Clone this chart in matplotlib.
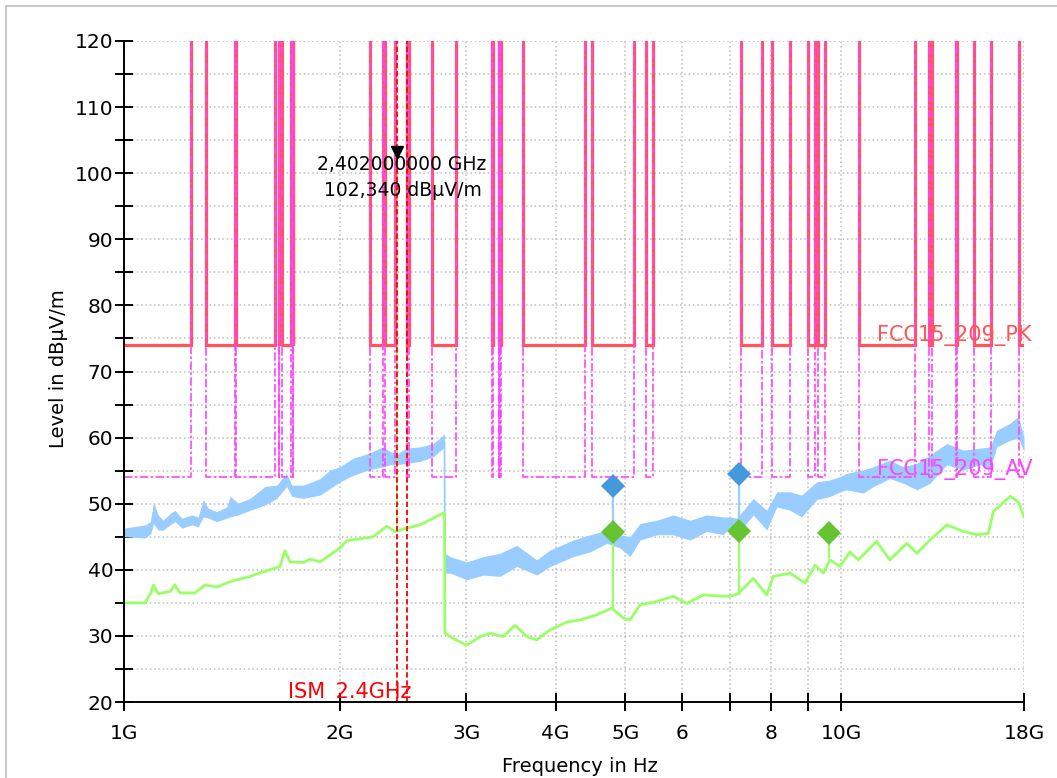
import numpy as np
import matplotlib
matplotlib.use("Agg")
import matplotlib.pyplot as plt
from matplotlib.ticker import FixedLocator, FixedFormatter, MultipleLocator, NullLocator
from matplotlib.patches import Rectangle
import matplotlib.transforms as mtransforms

# ---------------- data ----------------
# Peak trace (upper / lower envelope of the noisy trace), frequency in GHz
pk_freq = [1.000, 1.070, 1.090, 1.099, 1.116, 1.134, 1.159, 1.178, 1.204, 1.243,
           1.269, 1.290, 1.311, 1.347, 1.391, 1.406, 1.443, 1.499, 1.573, 1.633,
           1.686, 1.714, 1.779, 1.877, 1.938, 2.001, 2.088, 2.192, 2.299, 2.350,
           2.401, 2.479, 2.587, 2.700, 2.789, 2.799, 2.803, 2.850, 3.006, 3.171,
           3.345, 3.530, 3.764, 3.928, 4.233, 4.467, 4.713, 4.918, 5.079, 5.245,
           5.534, 5.837, 6.159, 6.497, 6.853, 7.002, 7.154, 7.546, 7.878, 8.136,
           8.490, 8.814, 9.251, 9.655, 9.970, 10.19, 10.74, 11.10, 11.70, 12.21,
           12.76, 13.31, 14.05, 14.82, 15.63, 16.14, 16.49, 17.22, 17.68, 18.00]
pk_hi = [46.3, 46.8, 47.3, 50.3, 48.3, 47.5, 48.5, 49.0, 47.8, 48.3,
         48.0, 50.6, 49.3, 48.8, 49.5, 51.1, 50.1, 50.8, 52.6, 52.8,
         54.6, 52.8, 52.8, 53.8, 55.1, 55.6, 56.9, 57.6, 58.6, 57.9,
         57.5, 58.4, 58.6, 59.1, 60.4, 60.4, 42.5, 42.0, 41.2, 42.0,
         42.5, 43.7, 41.5, 43.0, 44.5, 45.3, 46.0, 45.3, 45.0, 47.0,
         47.5, 48.3, 47.5, 48.3, 48.0, 48.0, 47.8, 50.8, 49.0, 51.8,
         51.8, 51.3, 53.3, 53.6, 54.1, 54.6, 55.1, 55.6, 56.6, 55.6,
         56.1, 57.4, 59.1, 58.1, 58.4, 58.6, 61.1, 62.2, 63.2, 60.1]
pk_lo = [45.0, 44.8, 45.5, 47.0, 46.0, 46.0, 46.8, 47.3, 46.3, 46.8,
         46.5, 48.0, 47.8, 47.3, 47.8, 48.0, 48.3, 49.0, 49.8, 50.8,
         52.6, 51.1, 50.8, 51.3, 52.3, 53.3, 54.3, 55.1, 55.6, 55.9,
         55.9, 56.1, 56.4, 57.1, 58.4, 58.4, 39.5, 39.5, 38.5, 39.2,
         39.0, 40.5, 39.2, 40.5, 42.0, 42.7, 44.0, 43.3, 42.0, 44.5,
         45.3, 45.3, 44.5, 45.8, 45.3, 46.5, 45.3, 48.3, 46.0, 49.5,
         49.0, 48.0, 50.6, 51.1, 51.8, 52.1, 51.6, 52.6, 53.8, 53.1,
         52.1, 53.1, 55.9, 55.1, 55.9, 55.1, 58.6, 59.6, 59.9, 57.9]

# Average trace
av_freq = [1.000, 1.070, 1.090, 1.099, 1.116, 1.159, 1.178, 1.197, 1.256, 1.297,
           1.347, 1.406, 1.499, 1.564, 1.650, 1.677, 1.704, 1.779, 1.817, 1.877,
           2.001, 2.045, 2.227, 2.325, 2.388, 2.479, 2.587, 2.700, 2.789, 2.799,
           2.803, 2.880, 3.006, 3.138, 3.240, 3.381, 3.510, 3.645, 3.764, 3.928,
           4.144, 4.325, 4.564, 4.789, 4.970, 5.079, 5.245, 5.534, 5.837, 6.094,
           6.427, 6.853, 7.002, 7.191, 7.546, 7.878, 8.047, 8.490, 8.909, 9.201,
           9.449, 9.655, 9.970, 10.29, 10.57, 11.21, 11.70, 12.35, 12.76, 13.31,
           14.05, 14.82, 15.47, 16.05, 16.31, 17.22, 17.68, 18.00]
av_val = [35.0, 35.0, 36.5, 37.7, 36.4, 36.7, 37.7, 36.5, 36.5, 37.7,
          37.4, 38.2, 39.0, 39.7, 40.5, 42.9, 41.2, 41.1, 41.6, 41.2,
          43.3, 44.4, 45.0, 46.6, 45.8, 46.3, 46.8, 47.8, 48.6, 48.6,
          30.4, 29.6, 28.6, 29.9, 30.4, 29.9, 31.6, 29.9, 29.4, 30.9,
          32.1, 32.4, 33.2, 34.2, 32.7, 32.4, 34.7, 35.2, 36.0, 34.9,
          36.2, 36.0, 36.0, 36.4, 38.7, 36.2, 39.0, 39.5, 38.0, 40.7,
          39.5, 41.5, 40.5, 42.7, 41.5, 44.3, 41.5, 44.0, 42.5, 44.5,
          46.8, 45.8, 45.3, 45.5, 48.8, 51.1, 50.3, 48.0]

# Carrier (marker M1)
carrier_freq = 2.402
carrier_pk = 102.34
carrier_av = 100.0
carrier_base_pk = 56.7
carrier_base_av = 45.9

# Final measurement points (harmonics)
final_pk_freq = [4.804, 7.206]
final_pk_val = [52.7, 54.45]
final_pk_trace = [45.0, 47.3]
final_av_freq = [4.804, 7.206, 9.608]
final_av_val = [45.7, 45.9, 45.5]
final_av_trace = [34.2, 36.4, 42.0]

# FCC 15.205 restricted bands (GHz) and limits
restricted_bands = [(1.0, 1.24), (1.3, 1.427), (1.435, 1.6265), (1.6455, 1.6465),
                    (1.66, 1.71), (1.7188, 1.7222), (2.2, 2.3), (2.31, 2.39),
                    (2.4835, 2.5), (2.69, 2.9), (3.26, 3.267), (3.332, 3.339),
                    (3.3458, 3.358), (3.6, 4.4), (4.5, 5.15), (5.35, 5.46),
                    (7.25, 7.75), (8.025, 8.5), (9.0, 9.2), (9.3, 9.5),
                    (10.6, 12.7), (13.25, 13.4), (14.47, 14.5), (15.35, 16.2),
                    (17.7, 18.0)]
limit_pk = 74.0
limit_av = 54.0
limit_off = 200.0

ism_band = (2.4, 2.4835)

x_ticks = [1, 2, 3, 4, 5, 6, 7, 8, 9, 10, 18]
x_tick_labels = ["1G", "2G", "3G", "4G", "5G", "6", "", "8", "", "10G", "18G"]

# ---------------- figure ----------------
plt.rcParams['font.family'] = ['DejaVu Sans']
W, H = 1057, 778
fig = plt.figure(figsize=(W / 100, H / 100), dpi=100)
fig.patch.set_facecolor('white')
ax = fig.add_axes([124 / W, 1 - 702 / H, 900 / W, 661 / H])
ax.set_xscale('log')
ax.set_xlim(1, 18)
ax.set_ylim(20, 120)

# grid
ax.set_axisbelow(True)
grid_kw = dict(color='#bdbdbd', linewidth=1.1, linestyle=(0, (1.0, 1.8)))
ax.grid(True, axis='x', which='major', **grid_kw)
ax.grid(True, axis='y', which='both', **grid_kw)

# traces
pk_mid = [(a + b) / 2 for a, b in zip(pk_hi, pk_lo)]
ax.fill_between(pk_freq, pk_lo, pk_hi, color='#99ccff', linewidth=0, zorder=2)
ax.plot(pk_freq, pk_mid, color='#99ccff', lw=1.3, zorder=2)
ax.plot(av_freq, av_val, color='#99ff66', lw=2.0, zorder=3)
ax.vlines(carrier_freq, carrier_base_pk, carrier_pk, color='#99ccff', lw=1.2, zorder=2)
ax.vlines(carrier_freq, carrier_base_av, carrier_av, color='#99ff66', lw=1.2, zorder=3)

# limit lines
def limit_path(level):
    xs, ys = [], []
    for a, b in restricted_bands:
        if a > 1.0:
            xs.append(a); ys.append(limit_off)
        xs += [a, b]; ys += [level, level]
        if b < 18.0:
            xs.append(b); ys.append(limit_off)
    return xs, ys

px, py = limit_path(limit_pk)
ax.plot(px, py, color='#ff5555', lw=2.3, zorder=4, solid_joinstyle='miter')
vx, vy = limit_path(limit_av)
ax.plot(vx, vy, color='#ff44ff', lw=1.2, zorder=5, linestyle=(0, (5, 1.5, 1.5, 1.5)))

# ISM band lines
for f in ism_band:
    ax.axvline(f, color='#ff0000', lw=1.3, linestyle=(0, (3, 1.5)), zorder=6)

# final measurement stems and diamonds
for f, v, t in zip(final_pk_freq, final_pk_val, final_pk_trace):
    ax.plot([f, f], [t, v], color='#99ccff', lw=1.6, zorder=6)
for f, v, t in zip(final_av_freq, final_av_val, final_av_trace):
    ax.plot([f, f], [t, v], color='#99ff66', lw=1.6, zorder=6)
ax.plot(final_pk_freq, final_pk_val, linestyle='none', marker='D', ms=12.5,
        color='#4499dd', markeredgewidth=0, zorder=7)
ax.plot(final_av_freq, final_av_val, linestyle='none', marker='D', ms=12.5,
        color='#66c433', markeredgewidth=0, zorder=7)

# marker M1
tri_shift = ax.transData + mtransforms.ScaledTranslation(0, 6 / 100, fig.dpi_scale_trans)
ax.plot([carrier_freq], [carrier_pk], linestyle='none', marker='v', ms=9,
        color='black', zorder=8, transform=tri_shift)
ax.annotate('2,402000000 GHz', xy=(carrier_freq, carrier_pk), xytext=(5, -12),
            textcoords='offset pixels', ha='center', va='baseline', fontsize=13.5,
            color='black', zorder=9)
ax.annotate('102,340 dBµV/m', xy=(carrier_freq, carrier_pk), xytext=(6, -38.5),
            textcoords='offset pixels', ha='center', va='baseline', fontsize=13.5,
            color='black', zorder=9)

# limit labels
ax.text(11.22, limit_pk + 0.6, 'FCC15_209_PK', color='#ff5555', fontsize=15,
        ha='left', va='baseline', zorder=9, clip_on=False)
ax.text(11.22, limit_av + 0.35, 'FCC15_209_AV', color='#ff44ff', fontsize=15,
        ha='left', va='baseline', zorder=9, clip_on=False)
ax.text(ism_band[1] * 1.012, 20.6, 'ISM_2.4GHz', color='#ff0000', fontsize=15,
        ha='right', va='baseline', zorder=9)

# axes styling
for s in ['top', 'right']:
    ax.spines[s].set_visible(False)
for s in ['left', 'bottom']:
    ax.spines[s].set_linewidth(1.4)
    ax.spines[s].set_zorder(10)

ax.xaxis.set_major_locator(FixedLocator(x_ticks))
ax.xaxis.set_major_formatter(FixedFormatter(x_tick_labels))
ax.xaxis.set_minor_locator(NullLocator())
ax.yaxis.set_major_locator(MultipleLocator(10))
ax.yaxis.set_minor_locator(MultipleLocator(5))
ax.tick_params(axis='both', which='both', direction='inout', length=13, width=1.4,
               color='black', labelsize=14.5)
ax.tick_params(axis='x', which='both', pad=9.0)
ax.tick_params(axis='y', which='both', pad=1.2)

fig.text(58 / W, 1 - 369 / H, 'Level in dBµV/m', rotation=90, ha='center', va='center',
         fontsize=14)
fig.text(580 / W, 1 - 757 / H, 'Frequency in Hz', ha='center', va='top', fontsize=14)

# window border
fig.patches.append(Rectangle((6 / W, -0.1), 2, 1 - 6 / H + 0.1, transform=fig.transFigure,
                             fill=False, edgecolor='#c4c4c4', lw=1.3))

fig.savefig('out.png', dpi=100)
